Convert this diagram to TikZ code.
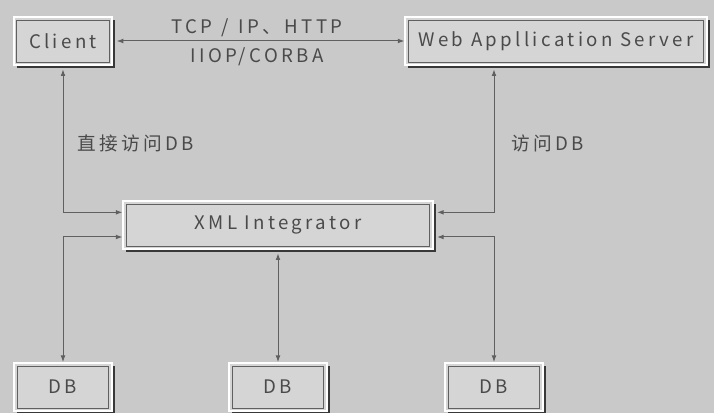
\documentclass[tikz,border=0pt]{standalone}
\usepackage{fontspec}
\setmainfont{Noto Sans CJK SC}[LetterSpace=18]
\usetikzlibrary{arrows.meta,shadows}
\definecolor{bg}{HTML}{C9C9C9}
\definecolor{boxfill}{HTML}{D5D5D5}
\definecolor{txt}{HTML}{4A4A4A}
\definecolor{edge}{HTML}{606060}
\definecolor{shade}{HTML}{383838}
\tikzset{
  box/.style={draw=white, line width=1.3pt, fill=boxfill, text=txt, font=\fontsize{14}{16}\selectfont,
    minimum height=36pt, inner sep=0pt,
    drop shadow={shadow xshift=2.2pt, shadow yshift=-2.2pt, fill=shade, opacity=1},
    path picture={\draw[line width=0.6pt, edge] ([shift={(2.2pt,-2.2pt)}]path picture bounding box.north west)
      rectangle ([shift={(-2.2pt,2.2pt)}]path picture bounding box.south east);}},
  twoway/.style={edge, line width=0.75pt, {Latex[length=5pt,width=3.6pt]}-{Latex[length=5pt,width=3.6pt]}},
  lbl/.style={text=txt, font=\fontsize{14}{16}\selectfont, inner sep=0pt},
}
\begin{document}
\begin{tikzpicture}[x=0.75pt,y=-0.75pt]
\fill[bg] (0,0) rectangle (714,413);
\useasboundingbox (0,0) rectangle (714,413);
% boxes
\node[box, minimum width=74pt] (client) at (63,41) {Client};
\node[box, minimum width=226pt] (server) at (556,41) {Web Appllication Server};
\node[box, minimum width=232pt] (xml) at (278,225) {XML Integrator};
\node[box, minimum width=73pt] (db1) at (63,387) {DB};
\node[box, minimum width=73pt] (db2) at (278,387) {DB};
\node[box, minimum width=73pt] (db3) at (494,387) {DB};
% labels
\node[lbl] (proto) at (257,28) {TCP\hspace{0.5em}/\hspace{0.5em}IP、HTTP};
\node[lbl] (corba) at (257,57) {IIOP/CORBA};
\node[lbl, anchor=west] (direct) at (77,143) {直接访问DB};
\node[lbl, anchor=west] (access) at (511,143) {访问DB};
% connectors
\draw[twoway] ([xshift=2.6pt]client.east) -- (server.west);
\draw[twoway] ([yshift=-2.6pt]client.south) |- ([yshift=9.5pt]xml.west);
\draw[twoway] ([yshift=-2.6pt]server.south -| db3.north) |- ([xshift=2.6pt,yshift=9.5pt]xml.east);
\draw[twoway] (db1.north) |- ([yshift=-9pt]xml.west);
\draw[twoway] (db3.north) |- ([xshift=2.6pt,yshift=-9pt]xml.east);
\draw[twoway] ([yshift=-2.6pt]xml.south) -- (db2.north);
\end{tikzpicture}
\end{document}
